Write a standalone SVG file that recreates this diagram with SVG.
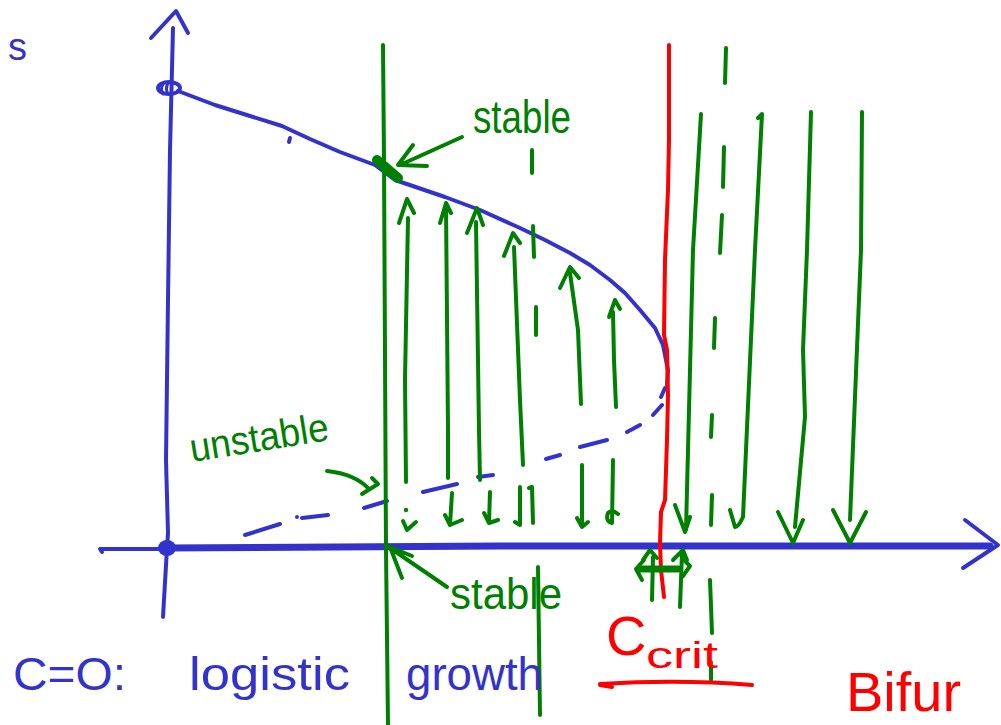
<svg xmlns="http://www.w3.org/2000/svg" width="1001" height="725" viewBox="0 0 1001 725">
<style>
.b{fill:none;stroke:#3333cc;stroke-linecap:round;stroke-linejoin:round}
.g{fill:none;stroke:#008000;stroke-width:4;stroke-linecap:round;stroke-linejoin:round}
.r{fill:none;stroke:#ff0000;stroke-width:4;stroke-linecap:round;stroke-linejoin:round}
.tb{font-family:"Liberation Sans",sans-serif;fill:#3333cc}
.tg{font-family:"Liberation Sans",sans-serif;fill:#008000}
.tr{font-family:"Liberation Sans",sans-serif;fill:#ff0000}
</style>
<rect width="1001" height="725" fill="#ffffff"/>
<g id="axes">
<path class="b" stroke-width="4" d="M173,28 L170,150 L168,300 L166,460 L168,533 L167,548 L163,617"/>
<path class="b" stroke-width="4" d="M151,38 L176,11 L188,33"/>
<path class="b" stroke-width="4" d="M102,552 L100,549 L160,549"/>
<path class="b" stroke-width="7" d="M167,548 L500,546 L990,546"/>
<path class="b" stroke-width="4" d="M965,520 L998,545 L963,568"/>
<ellipse cx="167" cy="548" rx="9" ry="8" fill="#3333cc"/>
<ellipse class="b" stroke-width="4" cx="169" cy="88" rx="11" ry="6"/>
<path class="b" stroke-width="3" d="M163,84 Q160,89 163,94 M168,83 Q165,89 168,94"/>
</g>
<g id="curves">
<path class="b" stroke-width="4" d="M178,91 L215,105 L250,116 L282,126 L310,139 L340,152 L375,165 L395,180 L445,197 L480,210 L520,228 L545,240 L570,253 L590,265 L610,280 L625,293 L640,310 L655,328 L663,345 L668,370 L667,385"/>
<path class="b" stroke-width="4" d="M290,138 L289,142"/>
<path class="b" stroke-width="4" d="M665,388 L661,397 M662,405 L653,415 M640,425 L627,432 M607,440 L580,447 M560,455 L546,459 M493,475 L478,477 M457,484 L423,492 M387,501 L364,508 M328,515 L302,518 M280,524 L245,535"/>
<circle cx="297" cy="517" r="2" fill="#3333cc"/>
</g>
<g id="red-line">
<path class="r" d="M669,45 L669,140 L668,190 L665,260 L664,335 L667,350 L668,395 L667,440 L665,500 L661,512 L660,543 L661,570 L664,597"/>
</g>
<g id="connectors">
<path class="g" d="M383,45 L384,160 L386,549 L388,725"/>
<path class="g" d="M532,150 L532,173 M533,226 L534,257 M536,307 L536,335 M538,567 L540,715"/>
<path class="g" d="M726,48 L725,83 M724,147 L723,187 M722,215 L720,253 M715,318 L714,348 M712,415 L711,437 M712,495 L711,525 M710,580 L712,633 M711,662 L711,680"/>
<path class="g" d="M406,482 L405,380 L408,218 M399,223 L407,199 L414,213"/>
<path class="g" d="M448,478 L448,430 L446,205 M440,223 L446,203 L451,213"/>
<path class="g" d="M480,480 L479,430 L476,222 M467,233 L477,208 L483,225"/>
<path class="g" d="M523,465 L520,400 L514,247 M504,256 L513,233 L520,243"/>
<path class="g" d="M581,404 L578,330 L570,273 M560,288 L570,267 L579,278"/>
<path class="g" d="M616,407 L614,360 L613,312 M609,317 L615,300 L620,309"/>
<circle cx="406" cy="510" r="2.2" fill="#008000"/>
<path class="g" d="M403,521 L407,530 L416,522"/>
<path class="g" d="M452,493 L450,525 M445,515 L450,525 L462,520"/>
<path class="g" d="M490,492 L489,523 M484,513 L489,523 L498,520"/>
<path class="g" d="M520,487 L520,525 L515,522 M529,488 L532,487 L533,523"/>
<path class="g" d="M582,465 L582,527 M577,518 L582,527 L588,522"/>
<path class="g" d="M613,460 L612,523 Q605,521 608,513 Q612,509 618,514"/>
<path class="g" d="M701,114 L693,250 L686,530 M675,505 L685,532 L690,517"/>
<path class="g" d="M758,118 L762,114 L755,250 L743,517 M743,517 Q738,528 735,527 L730,510"/>
<path class="g" d="M811,112 L807,250 L803,350 L805,417 L795,527 M778,512 L793,543 L803,520"/>
<path class="g" d="M862,112 L861,250 L850,520 M833,510 L850,543 L866,512"/>
<path class="g" d="M462,137 L400,165 M413,145 L398,165 L427,166"/>
<path class="g" style="stroke-width:10" d="M377,160 L398,178"/>
<path class="g" d="M447,587 L393,550 M412,556 L390,547 L402,578"/>
<path class="g" d="M327,471 Q355,474 369,489 M362,494 L378,484 L372,478"/>
<path class="g" d="M652,600 L653,557 M643,560 L650,550 L657,558"/>
<path class="g" d="M680,607 L682,553 M673,560 L683,550 L687,560"/>
<path class="g" style="stroke-width:7" d="M640,569 L678,569"/>
<path class="g" d="M644,560 L636,569 L642,580 M684,560 L690,566 L683,576"/>
<path class="r" d="M600,685 L612,687 M600,684 Q680,679 752,685"/>
</g>
<g id="labels">
<text class="tb" x="8" y="60" font-size="38">s</text>
<text class="tg" x="473" y="133" font-size="46" textLength="98" lengthAdjust="spacingAndGlyphs">stable</text>
<text class="tg" x="450" y="609" font-size="44" textLength="112" lengthAdjust="spacingAndGlyphs">stable</text>
<text class="tg" x="192" y="462" font-size="40" textLength="140" lengthAdjust="spacingAndGlyphs" transform="rotate(-9 192 462)">unstable</text>
<text class="tb" x="13" y="690" font-size="46" textLength="113" lengthAdjust="spacingAndGlyphs">C=O:</text>
<text class="tb" x="189" y="690" font-size="46" textLength="161" lengthAdjust="spacingAndGlyphs">logistic</text>
<text class="tb" x="406" y="690" font-size="46" textLength="137" lengthAdjust="spacingAndGlyphs">growth</text>
<text class="tr" x="606" y="655" font-size="56">C</text>
<text class="tr" x="646" y="668" font-size="36" textLength="72" lengthAdjust="spacingAndGlyphs">crit</text>
<text class="tr" x="846" y="711" font-size="56">Bifur</text>
</g>
</svg>
